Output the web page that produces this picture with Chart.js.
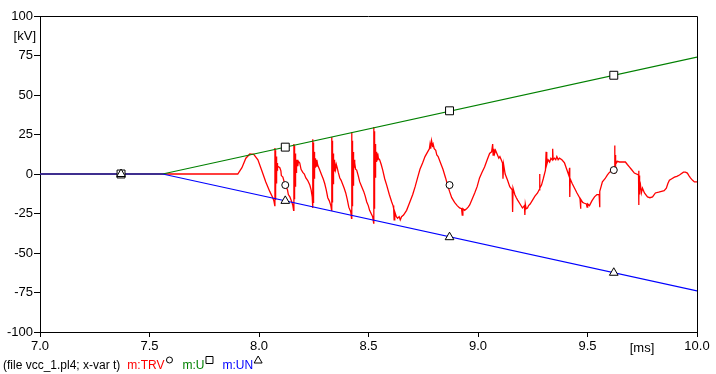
<!DOCTYPE html>
<html>
<head>
<meta charset="utf-8">
<script src="https://cdn.jsdelivr.net/npm/chart.js@4.4.1/dist/chart.umd.min.js"></script>
<style>
html,body{margin:0;padding:0;background:#fff;}
#wrap{width:716px;height:374px;position:relative;}
</style>
</head>
<body>
<div id="wrap"><canvas id="c" width="716" height="374"></canvas></div>
<script>
// ---- data (time in ms, voltage in kV) ----
const trvTime = [
7.000,7.903,7.922,7.940,7.958,7.976,7.995,8.013,8.031,8.049,8.063,8.068,
8.0720,8.0727,8.0734,8.0741,8.0748,8.0755,8.0762,8.0769,8.0776,8.0783,8.0790,8.0797,8.0804,8.0811,8.0818,8.0825,8.0832,8.0839,8.0850,8.0860,
8.095,8.100,8.102,8.109,8.115,8.122,8.130,8.134,8.141,8.148,8.154,8.158,
8.1590,8.1597,8.1604,8.1611,8.1618,8.1625,8.1632,8.1639,8.1646,8.1653,8.1660,8.1667,8.1674,8.1681,8.1688,8.1695,8.1702,8.1709,8.1716,8.1730,8.1750,8.1770,8.1800,
8.186,8.192,8.200,8.207,8.214,8.222,8.232,8.238,8.243,8.245,
8.2460,8.2467,8.2474,8.2481,8.2488,8.2495,8.2502,8.2509,8.2516,8.2523,8.2530,8.2537,8.2544,8.2551,8.2558,8.2570,8.2590,8.2610,
8.264,8.268,8.276,8.286,8.293,8.300,8.307,8.314,8.321,8.328,8.3315,
8.3320,8.3327,8.3334,8.3341,8.3348,8.3355,8.3362,8.3369,8.3376,8.3383,8.3390,8.3397,8.3404,8.3411,8.3418,8.3425,8.3432,8.3450,8.3470,8.3500,8.3530,
8.357,8.362,8.369,8.375,8.382,8.389,8.396,8.403,8.410,8.416,8.419,8.4225,
8.4230,8.4237,8.4244,8.4251,8.4258,8.4265,8.4272,8.4279,8.4286,8.4293,8.4300,8.4307,8.4314,8.4321,8.4328,8.4335,8.4342,8.4360,8.4380,8.4410,
8.446,8.453,8.460,8.469,8.478,8.485,8.492,8.499,8.505,8.512,8.519,8.5235,
8.5240,8.5247,8.5254,8.5261,8.5268,8.5275,8.5282,8.5289,8.5296,8.5303,8.5310,8.5317,8.5324,8.5331,8.5338,8.5350,8.5370,8.5390,8.5420,8.5450,
8.551,8.558,8.565,8.574,8.583,8.595,8.606,8.612,8.615,8.617,8.620,8.627,8.633,8.640,8.645,8.651,8.660,8.674,8.688,8.702,8.713,8.724,8.735,8.747,8.758,8.770,8.778,8.781,8.784,8.788,8.792,8.795,8.800,8.807,8.812,8.818,8.829,8.840,8.852,8.861,8.870,8.880,8.893,8.905,8.916,8.925,8.928,8.931,8.939,8.948,8.955,8.962,8.973,8.985,8.996,
9.007,9.018,9.030,9.042,9.053,9.062,9.067,9.069,9.073,9.076,9.080,9.089,9.095,9.100,9.112,9.114,9.117,9.124,9.135,9.145,9.156,9.158,9.160,9.168,9.175,9.181,9.192,9.203,9.212,9.214,9.216,9.220,9.226,9.231,9.238,9.249,9.260,9.272,9.279,9.281,9.283,9.290,9.298,
9.308,9.311,9.314,9.320,9.327,9.333,9.339,9.341,9.343,9.349,9.355,9.360,9.366,9.372,9.383,9.395,9.405,9.415,9.418,9.419,9.421,9.430,9.441,9.452,9.464,9.466,9.468,9.470,9.478,9.486,9.495,9.498,9.501,9.509,9.520,9.532,9.543,9.553,9.555,9.557,9.562,9.568,9.580,9.591,9.600,9.614,9.623,
9.6240,9.6247,9.6254,9.6261,9.6268,9.6275,9.6282,9.6290,9.6300,9.632,9.637,9.646,9.660,9.673,9.682,9.692,9.700,9.714,9.733,9.7337,9.7344,9.7351,9.7358,9.7365,9.7372,9.7379,9.7386,9.7395,9.742,9.746,9.751,9.760,9.774,9.785,9.797,9.810,9.825,9.838,9.850,9.860,9.867,9.874,9.885,9.897,9.908,9.920,9.938,9.947,9.956,9.963,9.970,9.980,9.988,10.000
];
const trvKV = [
0,0,4,10,12.7,12.5,9,2,-5,-11,-15,-17,
-20,16.5,-16,15,-14,13,-12,12,-9,11,-6,9,-3,8,0,7,2,6,3,5,
4,2,-1,-2,-5,-8,-10,-13,-14.5,-17,-19.6,-23,
19,-18,18,-16,16,-14,14,-11,13,-8,12,-5,11,-2,10,1,9,3,8,4,9,5,8,
7,3,1,0,-2.5,-4,-7,-10,-14.5,-21.5,
22,-18,20,-14,18,-10,16,-6,14,-3,12,0,11,2,10,4,9,5,
9,5.7,3,-0.6,-3,-6,-10,-15,-17,-20,-23,
23.4,-22,21,-18,19,-14,17,-10,15,-6,13,-3,12,0,10,2,9,4,8,3,6,
4,1,-2.5,-4,-6.5,-9,-12,-16,-21,-23,-24,-28,
26.6,-24,23,-20,21,-16,18,-11,16,-7,14,-3,12,0,10,2,9,4,7,3,
2.5,-1,-5,-8,-11,-14,-17.7,-20,-23,-25,-27,-31,
29.7,-28,27,-22,25,-15,23,-8,21,-2,19,3,17,6,15,8,14,9,13,10,
9,6,2.5,-3,-7,-13,-17.7,-20,-22,-29,-24,-27,-28,-27,-29,-27,-26,-23,-18,-13,-8,-2.5,3,7,11,14,16,19,16,21,18,19,16,15,12,11,7,3,-2.5,-7,-11,-15,-18,-20,-21.5,-22,-26,-22,-23,-22,-21,-19.6,-16,-12,-8,
-2.5,1,4.4,9,13,14,19,12,16,13,15,12,10,11,7,-3,6,0,-4,-8,-10,-24,-9,-13,-15,-16.5,-19,-21.5,-20,-26,-19,-22,-21.5,-20,-19,-16.5,-14,-12,-10,0,-9,-7,-3,
2.5,14,6,9,7.6,10,9,16,9,10,9,11,9,10,9,7,3,-1,4,-14.5,-3,-6,-9,-12,-15,-16,-22,-16,-18,-18.5,-19,-21,-19,-20,-17,-14.5,-13,-13,-21,-11,-8,-5,-3,-0.6,1,2.5,4,
18,0,14,3,12,5,10,6,9,7,8,7.6,7.6,7.6,6,4.4,3,0.6,-0.6,-19.6,2,-16,-1,-13,-3,-11,-5,-10,-7,-12,-9,-12,-14.5,-15,-14.5,-12,-11.5,-11,-10.5,-9,-6,-4,-3,-2,-1.5,-0.6,1.2,1.2,0.6,-1,-2.5,-4,-5,-5
];

const envTime = [7.0, 7.56, 10.0];
const uKV  = [0, 0, 74];
const unKV = [0, 0, -74];

const markerTime = [7.37, 8.12, 8.87, 9.62];
const markerTRV = [0, -7, -7, 2.5];
const markerU   = [0, 17, 40, 62.5];
const markerUN  = [0, -17, -40, -62.5];

const xTicks = [7.0, 7.5, 8.0, 8.5, 9.0, 9.5, 10.0];
const yTicks = [-100, -75, -50, -25, 0, 25, 50, 75, 100];

const xUnit = '[ms]';
const yUnit = '[kV]';
const fileNote = '(file vcc_1.pl4; x-var t)';
const seriesNames = ['m:TRV', 'm:U', 'm:UN'];

// ---- build ----
const pts = (xs, ys) => xs.map((x, i) => ({x: x, y: ys[i]}));
const RED = '#ff0000', GREEN = '#008000', BLUE = '#0000ff';
const FONT = "'Liberation Sans', Arial, sans-serif";

const framePlugin = {
  id: 'frame',
  afterDraw(chart) {
    const ctx = chart.ctx, a = chart.chartArea;
    ctx.save();
    ctx.strokeStyle = '#000';
    ctx.lineWidth = 1;
    ctx.beginPath();
    ctx.moveTo(Math.round(a.left) - 0.5, Math.round(a.top) + 0.5);
    ctx.lineTo(Math.round(a.right) + 0.5, Math.round(a.top) + 0.5);
    ctx.lineTo(Math.round(a.right) + 0.5, Math.round(a.bottom) + 0.5);
    ctx.stroke();
    ctx.fillStyle = '#000';
    ctx.font = '13px ' + FONT;
    ctx.textBaseline = 'middle';
    ctx.textAlign = 'right';
    ctx.fillText(yUnit, a.left - 4, a.top + 20);
    ctx.textAlign = 'center';
    ctx.fillText(xUnit, a.right - 55, a.bottom + 16);
    ctx.font = '12px ' + FONT;
    ctx.textAlign = 'left';
    const ly = a.bottom + 34;
    let x = 3;
    ctx.fillStyle = '#000';
    ctx.fillText(fileNote, x, ly);
    x += ctx.measureText(fileNote).width + 7;
    const cols = [RED, GREEN, BLUE];
    const shapes = ['circle', 'rect', 'triangle'];
    for (let i = 0; i < 3; i++) {
      ctx.fillStyle = cols[i];
      ctx.fillText(seriesNames[i], x, ly);
      x += ctx.measureText(seriesNames[i]).width + 5;
      ctx.strokeStyle = '#000';
      ctx.fillStyle = '#fff';
      ctx.beginPath();
      const my = ly - 6;
      if (shapes[i] === 'circle') ctx.arc(x, my, 3, 0, Math.PI * 2);
      else if (shapes[i] === 'rect') ctx.rect(x - 3.5, my - 3.5, 7, 7);
      else { ctx.moveTo(x, my - 4); ctx.lineTo(x + 4, my + 3); ctx.lineTo(x - 4, my + 3); ctx.closePath(); }
      ctx.fill(); ctx.stroke();
      x += 13;
    }
    ctx.restore();
  }
};

const markerBase = {
  showLine: false, borderColor: '#000', backgroundColor: '#fff', borderWidth: 1,
  pointHoverRadius: 0
};

new Chart(document.getElementById('c'), {
  type: 'scatter',
  data: {
    datasets: [
      Object.assign({label: 'UN marker', data: pts(markerTime, markerUN), pointStyle: 'triangle', pointRadius: 5}, markerBase),
      Object.assign({label: 'U marker', data: pts(markerTime, markerU), pointStyle: 'rect', pointRadius: 5.6}, markerBase),
      Object.assign({label: 'TRV marker', data: pts(markerTime, markerTRV), pointStyle: 'circle', pointRadius: 3.5}, markerBase),
      {label: 'm:UN', data: pts(envTime, unKV), showLine: true, borderColor: BLUE, borderWidth: 1.1, pointRadius: 0},
      {label: 'm:U', data: pts(envTime, uKV), showLine: true, borderColor: GREEN, borderWidth: 1.1, pointRadius: 0},
      {label: 'm:TRV', data: pts(trvTime, trvKV), showLine: true, borderColor: RED, borderWidth: 1.3, pointRadius: 0, tension: 0}
    ]
  },
  options: {
    responsive: false,
    animation: false,
    events: [],
    layout: {padding: {left: 0, right: 19, top: 16, bottom: 0}},
    plugins: {legend: {display: false}, tooltip: {enabled: false}},
    scales: {
      x: {
        type: 'linear', min: 7, max: 10,
        afterBuildTicks: s => { s.ticks = xTicks.map(v => ({value: v})); },
        afterFit: s => { s.height = 42; },
        ticks: {color: '#000', font: {family: FONT, size: 13}, padding: 2, maxRotation: 0,
                callback: v => Number(v).toFixed(1)},
        grid: {drawOnChartArea: false, drawTicks: true, tickLength: 5, color: '#000'},
        border: {display: true, color: '#000', width: 1}
      },
      y: {
        type: 'linear', min: -100, max: 100,
        afterBuildTicks: s => { s.ticks = yTicks.map(v => ({value: v})); },
        afterFit: s => { s.width = 40; },
        ticks: {color: '#000', font: {family: FONT, size: 13}, padding: 1,
                callback: v => String(v)},
        grid: {drawOnChartArea: false, drawTicks: true, tickLength: 6, color: '#000'},
        border: {display: true, color: '#000', width: 1}
      }
    }
  },
  plugins: [framePlugin]
});
</script>
</body>
</html>
